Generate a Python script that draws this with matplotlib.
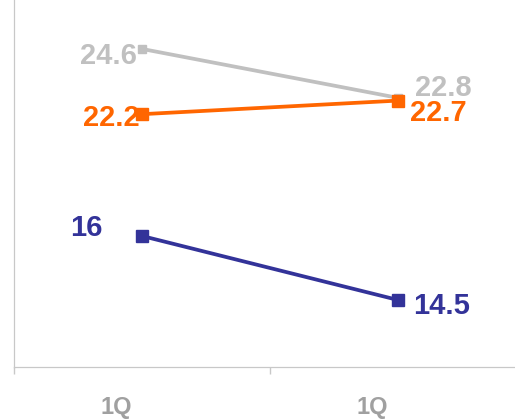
import matplotlib.pyplot as plt

# data
categories = ["1Q", "1Q"]
gray_vals = [24.6, 22.8]
orange_vals = [22.2, 22.7]
navy_vals = [16, 14.5]

plt.rcParams['font.family'] = ['Liberation Sans', 'DejaVu Sans']

fig = plt.figure(figsize=(5.15, 4.19), dpi=100)
# axes runs a bit past the right edge, like the original
ax = fig.add_axes([14/515, 52/419, 512/515, 367/419])
ax2 = ax.twinx()

x = [0.5, 1.5]
ax.set_xlim(0, 2)
ax.set_ylim(12.9, 26.4)
ax2.set_ylim(12.93, 21.53)

ax.plot(x, gray_vals, color="#C0C0C0", lw=2.7, marker="s", ms=6, zorder=3)
ax.plot(x, orange_vals, color="#FF6600", lw=2.7, marker="s", ms=9, zorder=4)
ax2.plot(x, navy_vals, color="#333399", lw=2.7, marker="s", ms=9, zorder=4)

lab = dict(fontsize=21, fontweight="bold", textcoords="offset points")
ax.annotate("24.6", (x[0], gray_vals[0]), xytext=(-4, -5), color="#C0C0C0", ha="right", va="center", **lab)
ax.annotate("22.8", (x[1], gray_vals[1]), xytext=(12, 7), color="#C0C0C0", ha="left", va="center", **lab)
ax.annotate("22.2", (x[0], orange_vals[0]), xytext=(-2, -3), color="#FF6600", ha="right", va="center", **lab)
ax.annotate("22.7", (x[1], orange_vals[1]), xytext=(9, -9), color="#FF6600", ha="left", va="center", **lab)
ax2.annotate("16", (x[0], navy_vals[0]), xytext=(-40, 6), color="#333399", ha="center", va="center", **lab)
ax2.annotate("14.5", (x[1], navy_vals[1]), xytext=(11, -4), color="#333399", ha="left", va="center", **lab)

# ticks between categories, labels drawn slightly left of center
ax.set_xticks([0, 1, 2])
ax.set_xticklabels([])
ax.tick_params(axis="x", length=5, color="#C8C8C8", width=1)
ax.set_xticks([0.4, 1.4], minor=True)
ax.set_xticklabels(categories, minor=True)
ax.tick_params(axis="x", which="minor", length=0, pad=21, labelsize=17, labelcolor="#A0A0A0")
for t in ax.get_xticklabels(minor=True):
    t.set_fontweight("bold")

ax.set_yticks([])
ax2.set_yticks([])
for a in (ax, ax2):
    a.spines["top"].set_visible(False)
    a.spines["right"].set_visible(False)
    a.spines["left"].set_color("#C8C8C8")
    a.spines["bottom"].set_color("#C8C8C8")
    a.patch.set_visible(False)

fig.savefig("out.png", dpi=100)
